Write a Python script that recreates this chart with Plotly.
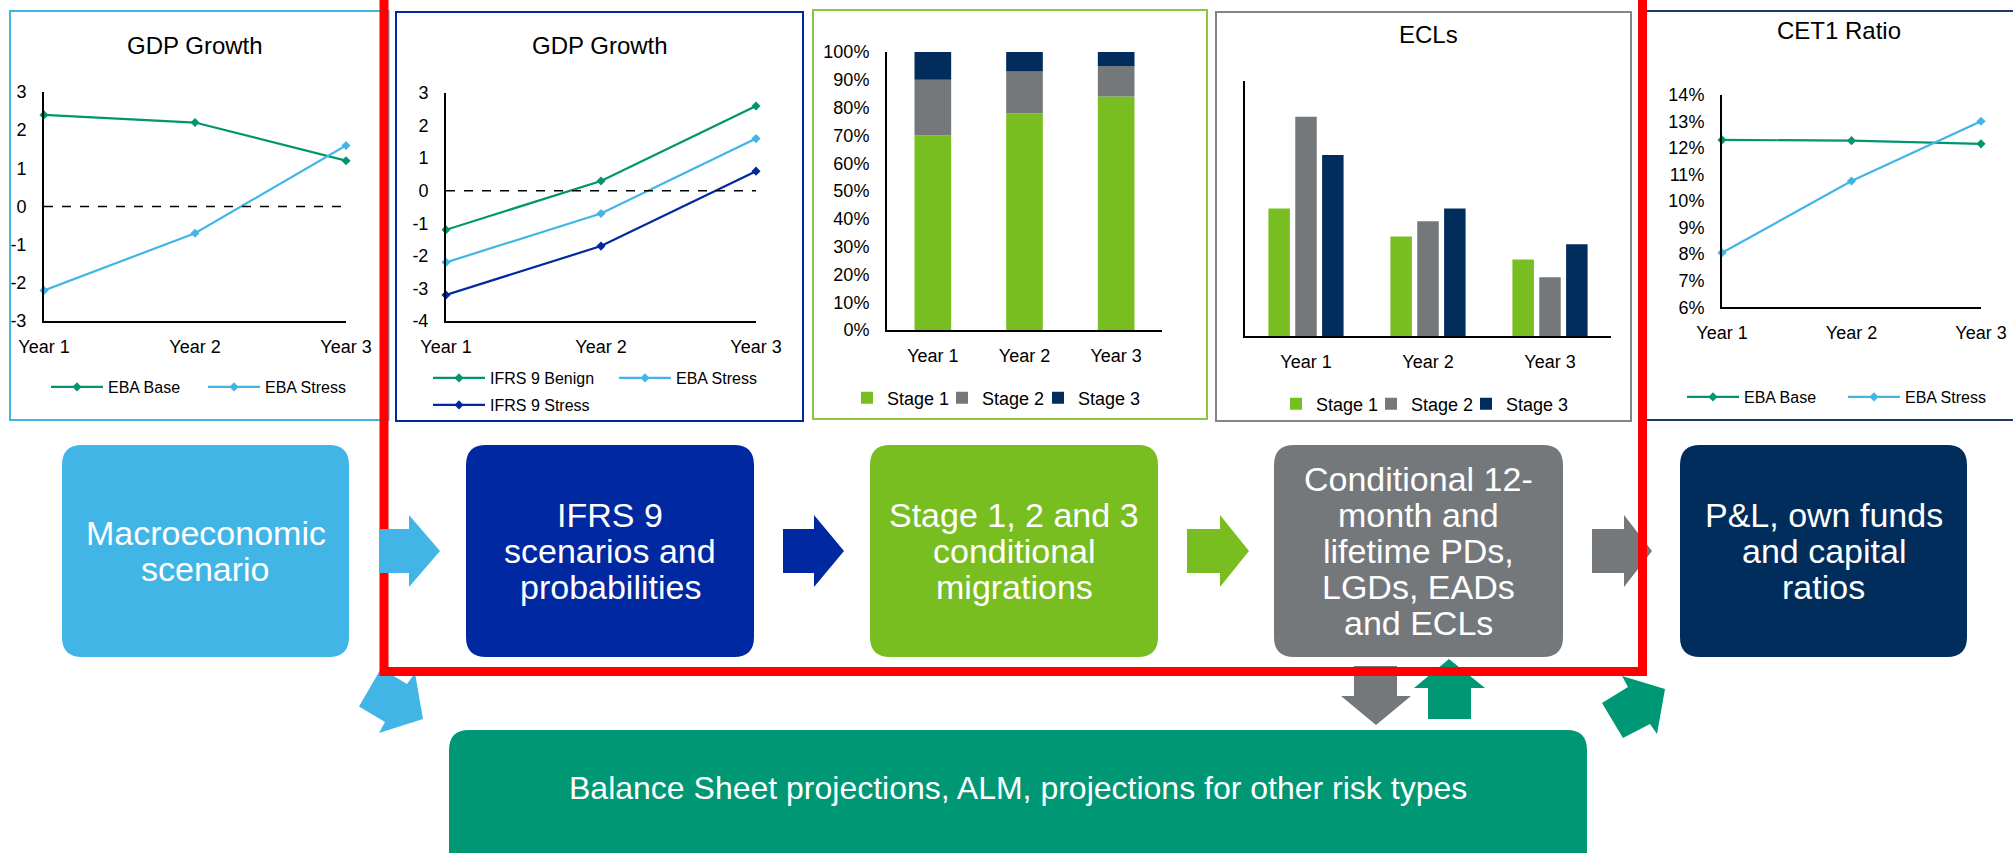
import plotly.graph_objects as go

W, H = 2013, 853
FONT = "Liberation Sans, Arial, Helvetica, sans-serif"

# ---------------- data ----------------
years = ["Year 1", "Year 2", "Year 3"]

macro_names = ["EBA Base", "EBA Stress"]
macro_gdp_eba_base = [2.4, 2.2, 1.2]
macro_gdp_eba_stress = [-2.2, -0.7, 1.6]
macro_gdp_ticks = [-3, -2, -1, 0, 1, 2, 3]

ifrs_names = ["IFRS 9 Benign", "EBA Stress", "IFRS 9 Stress"]
ifrs_gdp_benign = [-1.2, 0.3, 2.6]
ifrs_gdp_eba_stress = [-2.2, -0.7, 1.6]
ifrs_gdp_stress = [-3.2, -1.7, 0.6]
ifrs_gdp_ticks = [-4, -3, -2, -1, 0, 1, 2, 3]

stage_names = ["Stage 1", "Stage 2", "Stage 3"]
migration_stage1 = [0.70, 0.78, 0.84]
migration_stage2 = [0.20, 0.15, 0.11]
migration_stage3 = [0.10, 0.07, 0.05]

ecl_stage1 = [50, 39, 30]
ecl_stage2 = [86, 45, 23]
ecl_stage3 = [71, 50, 36]

cet1_names = ["EBA Base", "EBA Stress"]
cet1_eba_base = [0.123, 0.1227, 0.1215]
cet1_eba_stress = [0.0805, 0.1075, 0.130]

chart_titles = ["GDP Growth", "GDP Growth", "ECLs", "CET1 Ratio"]

box_texts = [
    ["Macroeconomic", "scenario"],
    ["IFRS 9", "scenarios and", "probabilities"],
    ["Stage 1, 2 and 3", "conditional", "migrations"],
    ["Conditional 12-", "month and", "lifetime PDs,", "LGDs, EADs", "and ECLs"],
    ["P&L, own funds", "and capital", "ratios"],
]
bottom_text = "Balance Sheet projections, ALM, projections for other risk types"

# ---------------- colours ----------------
TEAL = "#00956F"
TEAL_BOX = "#009874"
LBLUE = "#41B6E6"
DBLUE = "#0028A0"
LIME = "#78BE20"
GRAY = "#75787B"
NAVY = "#002D5B"
RED = "#FF0000"


def px(x):
    return x / W


def py(y):
    return 1 - y / H


fig = go.Figure()

line_kw = dict(mode="lines+markers", cliponaxis=False,
               marker=dict(symbol="diamond", size=7), line=dict(width=2.2))

# chart 1 : macro GDP
fig.add_trace(go.Scatter(x=years, y=macro_gdp_eba_base, name=macro_names[0], xaxis="x", yaxis="y",
                         line_color=TEAL, marker_color=TEAL, legend="legend", **line_kw))
fig.add_trace(go.Scatter(x=years, y=macro_gdp_eba_stress, name=macro_names[1], xaxis="x", yaxis="y",
                         line_color=LBLUE, marker_color=LBLUE, legend="legend2", **line_kw))
# chart 2 : IFRS 9 GDP
fig.add_trace(go.Scatter(x=years, y=ifrs_gdp_benign, name=ifrs_names[0], xaxis="x2", yaxis="y2",
                         line_color=TEAL, marker_color=TEAL, legend="legend3", **line_kw))
fig.add_trace(go.Scatter(x=years, y=ifrs_gdp_eba_stress, name=ifrs_names[1], xaxis="x2", yaxis="y2",
                         line_color=LBLUE, marker_color=LBLUE, legend="legend4", **line_kw))
fig.add_trace(go.Scatter(x=years, y=ifrs_gdp_stress, name=ifrs_names[2], xaxis="x2", yaxis="y2",
                         line_color=DBLUE, marker_color=DBLUE, legend="legend5", **line_kw))
# chart 3 : stacked migrations
mig_base2 = migration_stage1
mig_base3 = [a + b for a, b in zip(migration_stage1, migration_stage2)]
for vals, base, nm, col, lg in [(migration_stage1, None, stage_names[0], LIME, "legend6"),
                                 (migration_stage2, mig_base2, stage_names[1], GRAY, "legend7"),
                                 (migration_stage3, mig_base3, stage_names[2], NAVY, "legend8")]:
    fig.add_trace(go.Bar(x=years, y=vals, base=base, name=nm, xaxis="x3", yaxis="y3",
                         offsetgroup="mig", width=0.4, marker_color=col, marker_line_width=0,
                         legend=lg))
# chart 4 : ECLs grouped
for vals, nm, col, lg in [(ecl_stage1, stage_names[0], LIME, "legend9"),
                          (ecl_stage2, stage_names[1], GRAY, "legend10"),
                          (ecl_stage3, stage_names[2], NAVY, "legend11")]:
    fig.add_trace(go.Bar(x=years, y=vals, name=nm, xaxis="x4", yaxis="y4",
                         marker_color=col, marker_line_width=0, legend=lg))
# chart 5 : CET1
fig.add_trace(go.Scatter(x=years, y=cet1_eba_base, name=cet1_names[0], xaxis="x5", yaxis="y5",
                         line_color=TEAL, marker_color=TEAL, legend="legend12", **line_kw))
fig.add_trace(go.Scatter(x=years, y=cet1_eba_stress, name=cet1_names[1], xaxis="x5", yaxis="y5",
                         line_color=LBLUE, marker_color=LBLUE, legend="legend13", **line_kw))

# ---------------- axes ----------------
axes_px = [(44, 346, 92, 321), (446, 756, 93, 321), (887, 1162, 52, 330),
           (1245, 1611, 81, 336), (1722, 1981, 94.7, 307.3)]
x_ranges = [[0, 2], [0, 2], [-0.5, 2.5], [-0.5, 2.5], [0, 2]]
layout = {}
for i, ((x0, x1, yt, yb), xr) in enumerate(zip(axes_px, x_ranges), start=1):
    sfx = "" if i == 1 else str(i)
    layout["xaxis" + sfx] = dict(domain=[px(x0), px(x1)], anchor="y" + sfx, type="category",
                                 range=xr, showline=True, linecolor="black", linewidth=2,
                                 showgrid=False, zeroline=False, ticks="", automargin=False,
                                 ticklabelstandoff=8,
                                 tickfont=dict(size=18, color="black", family=FONT), fixedrange=True)
    layout["yaxis" + sfx] = dict(domain=[py(yb), py(yt)], anchor="x" + sfx,
                                 showline=True, linecolor="black", linewidth=2,
                                 showgrid=False, zeroline=False, ticks="", automargin=False,
                                 ticklabelstandoff=12,
                                 tickfont=dict(size=18, color="black", family=FONT), fixedrange=True)

layout["yaxis"].update(range=[-3, 3], tickvals=macro_gdp_ticks,
                       ticktext=[str(v) for v in macro_gdp_ticks])
layout["yaxis2"].update(range=[-4, 3], tickvals=ifrs_gdp_ticks,
                        ticktext=[str(v) for v in ifrs_gdp_ticks])
layout["yaxis3"].update(range=[0, 1], dtick=0.1, tickformat=".0%")
layout["yaxis4"].update(range=[0, 100], showticklabels=False)
layout["yaxis5"].update(range=[0.06, 0.14], dtick=0.01, tickformat=".0%")


# ---------------- legends ----------------
def legend_cfg(xl, yc, size, itemwidth):
    return dict(x=px(xl), y=py(yc), xanchor="left", yanchor="middle", orientation="h",
                bgcolor="rgba(0,0,0,0)", borderwidth=0, itemwidth=itemwidth,
                font=dict(size=size, family=FONT, color="black"))


legend_pos = [
    ("legend", 46, 387, 16, 52), ("legend2", 203, 387, 16, 52),
    ("legend3", 428, 378, 16, 52), ("legend4", 614, 378, 16, 52), ("legend5", 428, 405, 16, 52),
    ("legend6", 847, 398, 18, 30), ("legend7", 942, 398, 18, 30), ("legend8", 1038, 398, 18, 30),
    ("legend9", 1276, 404, 18, 30), ("legend10", 1371, 404, 18, 30), ("legend11", 1466, 404, 18, 30),
    ("legend12", 1682, 397, 16, 52), ("legend13", 1843, 397, 16, 52),
]
for key, xl, yc, sz, iw in legend_pos:
    layout[key] = legend_cfg(xl, yc, sz, iw)

# ---------------- shapes ----------------
shapes = []


def rect_shape(x0, y0, x1, y1, color, width=2):
    return dict(type="rect", xref="paper", yref="paper", x0=px(x0), x1=px(x1), y0=py(y1), y1=py(y0),
                line=dict(color=color, width=width), fillcolor="rgba(0,0,0,0)", layer="below")


def rrect_path(x0, y0, x1, y1, r):
    P = lambda x, y: f"{px(x):.6f},{py(y):.6f}"
    return (f"M{P(x0 + r, y0)} L{P(x1 - r, y0)} Q{P(x1, y0)} {P(x1, y0 + r)} "
            f"L{P(x1, y1 - r)} Q{P(x1, y1)} {P(x1 - r, y1)} L{P(x0 + r, y1)} "
            f"Q{P(x0, y1)} {P(x0, y1 - r)} L{P(x0, y0 + r)} Q{P(x0, y0)} {P(x0 + r, y0)} Z")


def poly_path(pts):
    return "M" + " L".join(f"{px(x):.6f},{py(y):.6f}" for x, y in pts) + " Z"


def fill_path(path, color, layer="above"):
    return dict(type="path", xref="paper", yref="paper", path=path, fillcolor=color,
                line=dict(width=0), layer=layer)


# panel frames
shapes.append(rect_shape(10, 11, 388.5, 420, LBLUE))
shapes.append(rect_shape(396, 12, 803, 421, DBLUE))
shapes.append(rect_shape(813, 10, 1207, 419, "#8CC63F"))
shapes.append(rect_shape(1216, 12, 1631, 421, "#858585"))
shapes.append(rect_shape(1643, 11, 2040, 420, "#1F3864"))

# zero reference lines
for xr, yr in [("x domain", "y"), ("x2 domain", "y2")]:
    shapes.append(dict(type="line", xref=xr, yref=yr, x0=0, x1=1, y0=0, y1=0,
                       line=dict(color="black", width=1.5, dash="dash"), layer="above"))

# process boxes
box_px = [(62, 445, 349, 657, LBLUE), (466, 445, 754, 657, DBLUE), (870, 445, 1158, 657, LIME),
          (1274, 445, 1563, 657, GRAY), (1680, 445, 1967, 657, NAVY)]
for x0, y0, x1, y1, c in box_px:
    shapes.append(fill_path(rrect_path(x0, y0, x1, y1, 20), c))
shapes.append(fill_path(rrect_path(449, 730, 1587, 880, 20), TEAL_BOX))


def right_arrow(xs0, xs1, xt, c):
    return fill_path(poly_path([(xs0, 529), (xs1, 529), (xs1, 515), (xt, 551), (xs1, 587),
                                (xs1, 573), (xs0, 573)]), c)


shapes.append(right_arrow(783, 814, 844, DBLUE))
shapes.append(right_arrow(1187, 1220, 1249, LIME))
shapes.append(right_arrow(1592, 1624, 1652, GRAY))
# vertical arrows
shapes.append(fill_path(poly_path([(1354, 666), (1397, 666), (1397, 696), (1411, 696), (1376, 725),
                                   (1341, 696), (1354, 696)]), GRAY))
shapes.append(fill_path(poly_path([(1449, 659), (1485, 688), (1471, 688), (1471, 719), (1428, 719),
                                   (1428, 688), (1414, 688)]), TEAL_BOX))
# diagonal arrows
shapes.append(fill_path(poly_path([(1602, 703), (1628, 687), (1622, 676), (1665, 689), (1657, 734),
                                   (1650, 724), (1623, 738)]), TEAL_BOX))
shapes.append(fill_path(poly_path([(381, 668.5), (407, 684), (415, 673), (423, 719), (379, 733),
                                   (385, 722), (359, 706.5)]), LBLUE))
# red highlight frame
shapes.append(dict(type="rect", xref="paper", yref="paper", x0=px(384), x1=px(1642.5),
                   y0=py(671.5), y1=py(-30), line=dict(color=RED, width=9),
                   fillcolor="rgba(0,0,0,0)", layer="above"))
shapes.append(right_arrow(379, 409, 440, LBLUE))

# ---------------- annotations ----------------
ann = []
title_pos = [(195, 45), (600, 45), (1428, 35), (1839, 30)]
for t, (cx, cy) in zip(chart_titles, title_pos):
    ann.append(dict(text=t, x=px(cx), y=py(cy), xref="paper", yref="paper", showarrow=False,
                    xanchor="center", yanchor="middle", font=dict(size=24, color="black", family=FONT)))

for (x0, y0, x1, y1, c), lines in zip(box_px, box_texts):
    cx = (x0 + x1) / 2
    n = len(lines)
    for k, ln in enumerate(lines):
        cy = 550.5 + (k - (n - 1) / 2) * 36
        ann.append(dict(text=ln, x=px(cx), y=py(cy), xref="paper", yref="paper", showarrow=False,
                        xanchor="center", yanchor="middle",
                        font=dict(size=34, color="white", family=FONT)))
ann.append(dict(text=bottom_text, x=px(1018), y=py(788), xref="paper", yref="paper",
                showarrow=False, xanchor="center", yanchor="middle",
                font=dict(size=32, color="white", family=FONT)))

fig.update_layout(**layout)
fig.update_layout(width=W, height=H, margin=dict(l=0, r=0, t=0, b=0, pad=0, autoexpand=False),
                  showlegend=True,
                  paper_bgcolor="white", plot_bgcolor="rgba(0,0,0,0)",
                  barmode="group", bargap=0.34, bargroupgap=0.2,
                  shapes=shapes, annotations=ann, hovermode=False,
                  font=dict(family=FONT, color="black"))

fig.write_html("out.html", config={"displayModeBar": False})
